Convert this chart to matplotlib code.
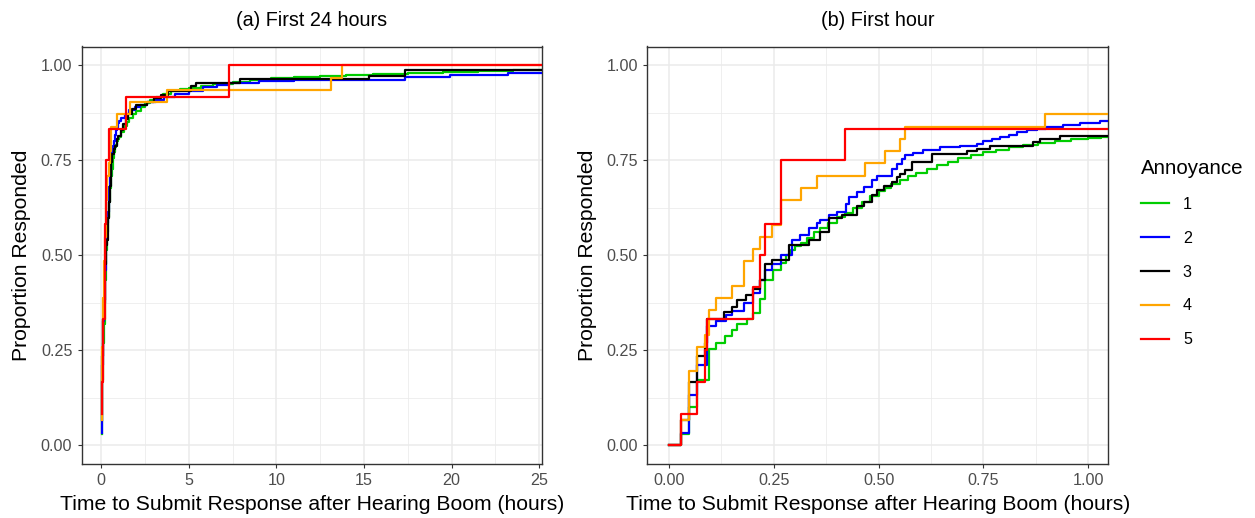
import matplotlib
matplotlib.use('Agg')
import matplotlib.pyplot as plt
from matplotlib.lines import Line2D
from matplotlib.ticker import FixedLocator

plt.rcParams['font.family'] = ['Liberation Sans', 'DejaVu Sans']

# ---------------- data ----------------
annoyance_levels = ['1', '2', '3', '4', '5']
line_colors = ['#00CD00', '#0000FF', '#000000', '#FFA500', '#FF0000']

# Annoyance 1 (green): time (hours) of each step and cumulative proportion after it
t_a1 = [0.028, 0.048, 0.066, 0.095, 0.113, 0.133, 0.151, 0.163, 0.185, 0.200,
        0.218, 0.230, 0.248, 0.266, 0.280, 0.290, 0.300, 0.315, 0.330, 0.345,
        0.360, 0.380, 0.400, 0.420, 0.440, 0.460, 0.480, 0.500, 0.515, 0.530,
        0.550, 0.570, 0.590, 0.615, 0.640, 0.665, 0.690, 0.720, 0.750, 0.780,
        0.810, 0.845, 0.880, 0.920, 0.960, 1.000, 1.030,
        1.15, 1.30, 1.45, 1.60, 1.80, 2.00, 2.25, 2.50, 2.80, 3.10, 3.50, 4.00,
        4.50, 5.00, 5.70, 6.40, 7.50, 8.50, 9.70, 11.0, 12.5, 14.0, 15.5, 17.5,
        19.5, 21.5, 23.5]
p_a1 = [0.029, 0.100, 0.171, 0.253, 0.269, 0.287, 0.303, 0.318, 0.333, 0.348,
        0.386, 0.434, 0.462, 0.480, 0.500, 0.515, 0.525, 0.532, 0.545, 0.560,
        0.572, 0.585, 0.600, 0.612, 0.625, 0.640, 0.655, 0.668, 0.678, 0.688,
        0.698, 0.708, 0.717, 0.727, 0.737, 0.746, 0.755, 0.763, 0.772, 0.778,
        0.784, 0.790, 0.795, 0.800, 0.805, 0.809, 0.812,
        0.825, 0.840, 0.852, 0.862, 0.872, 0.880, 0.890, 0.900, 0.908, 0.916,
        0.924, 0.932, 0.937, 0.941, 0.946, 0.951, 0.956, 0.961, 0.966, 0.970,
        0.973, 0.975, 0.977, 0.980, 0.983, 0.985, 0.987]

# Annoyance 2 (blue)
t_a2 = [0.028, 0.048, 0.066, 0.091, 0.113, 0.135, 0.151, 0.179, 0.200, 0.218,
        0.228, 0.246, 0.266, 0.294, 0.313, 0.333, 0.353, 0.361, 0.381, 0.401,
        0.421, 0.429, 0.448, 0.466, 0.484, 0.496, 0.532, 0.544, 0.556, 0.563,
        0.583, 0.607, 0.647, 0.694, 0.734, 0.750, 0.770, 0.790, 0.810, 0.829,
        0.853, 0.877, 0.900, 0.940, 0.980, 1.028,
        1.15, 1.35, 1.60, 1.90, 2.20, 2.60, 3.10, 3.60, 4.20, 5.00, 5.80, 6.60,
        7.30, 9.00, 11.0, 14.0, 17.35, 19.9, 23.2]
p_a2 = [0.032, 0.132, 0.212, 0.313, 0.326, 0.342, 0.354, 0.373, 0.400, 0.434,
        0.460, 0.478, 0.500, 0.541, 0.553, 0.572, 0.585, 0.594, 0.605, 0.614,
        0.636, 0.654, 0.667, 0.680, 0.697, 0.710, 0.728, 0.741, 0.754, 0.763,
        0.769, 0.776, 0.785, 0.789, 0.794, 0.800, 0.807, 0.811, 0.818, 0.825,
        0.829, 0.833, 0.838, 0.844, 0.848, 0.854,
        0.862, 0.872, 0.882, 0.890, 0.897, 0.904, 0.910, 0.918, 0.926, 0.934,
        0.942, 0.949, 0.954, 0.958, 0.961, 0.963, 0.969, 0.974, 0.979]

# Annoyance 3 (black)
t_a3 = [0.028, 0.048, 0.066, 0.085, 0.091, 0.131, 0.151, 0.161, 0.183, 0.200,
        0.218, 0.228, 0.246, 0.286, 0.333, 0.361, 0.381, 0.413, 0.448, 0.466,
        0.484, 0.496, 0.512, 0.532, 0.544, 0.552, 0.563, 0.579, 0.627, 0.710,
        0.734, 0.766, 0.869, 0.885, 0.933,
        1.10, 1.25, 1.40, 1.55, 1.75, 2.00, 2.60, 3.00, 3.40, 3.80, 5.10, 5.40,
        7.90, 15.3, 17.35]
p_a3 = [0.066, 0.167, 0.234, 0.268, 0.333, 0.351, 0.364, 0.383, 0.395, 0.410,
        0.434, 0.478, 0.487, 0.526, 0.541, 0.561, 0.597, 0.605, 0.629, 0.640,
        0.658, 0.671, 0.682, 0.693, 0.706, 0.715, 0.725, 0.747, 0.766, 0.775,
        0.781, 0.789, 0.798, 0.805, 0.814,
        0.830, 0.845, 0.860, 0.872, 0.885, 0.897, 0.905, 0.915, 0.923, 0.934,
        0.945, 0.955, 0.964, 0.971, 0.988]

# Annoyance 4 (orange)
t_a4 = [0.028, 0.048, 0.066, 0.085, 0.095, 0.113, 0.151, 0.179, 0.200, 0.218,
        0.246, 0.266, 0.314, 0.352, 0.467, 0.514, 0.552, 0.562, 0.897, 1.66,
        3.77, 13.1, 13.76]
p_a4 = [0.065, 0.194, 0.258, 0.290, 0.355, 0.387, 0.419, 0.484, 0.516, 0.548,
        0.581, 0.645, 0.677, 0.710, 0.742, 0.774, 0.806, 0.839, 0.871, 0.903,
        0.935, 0.968, 1.000]

# Annoyance 5 (red)
t_a5 = [0.028, 0.066, 0.085, 0.091, 0.201, 0.218, 0.228, 0.266, 0.420, 1.41, 7.29]
p_a5 = [0.083, 0.167, 0.250, 0.333, 0.417, 0.500, 0.583, 0.750, 0.833, 0.917, 1.000]

series_t = [t_a1, t_a2, t_a3, t_a4, t_a5]
series_p = [p_a1, p_a2, p_a3, p_a4, p_a5]

panel_titles = ['(a) First 24 hours', '(b) First hour']
x_label = 'Time to Submit Response after Hearing Boom (hours)'
y_label = 'Proportion Responded'
y_ticks = [0.0, 0.25, 0.5, 0.75, 1.0]
y_ticklabels = ['0.00', '0.25', '0.50', '0.75', '1.00']
xL_ticks = [0, 5, 10, 15, 20, 25]
xR_ticks = [0.0, 0.25, 0.5, 0.75, 1.0]
xR_ticklabels = ['0.00', '0.25', '0.50', '0.75', '1.00']

# ---------------- figure ----------------
W, H = 1255, 518
fig = plt.figure(figsize=(W / 100, H / 100), dpi=100)
ax_bottom = (H - 464) / H
ax_h = 417.5 / H
axL = fig.add_axes([81.7 / W, ax_bottom, 460 / W, ax_h])
axR = fig.add_axes([647.3 / W, ax_bottom, 461 / W, ax_h])

LW = 1.6
END_T = 1000.0

for ax, pad_zero in ((axL, False), (axR, True)):
    for t, p, c in zip(series_t, series_p, line_colors):
        tt = list(t) + [END_T]
        pp = list(p) + [p[-1]]
        if pad_zero:
            tt = [0.0] + tt
            pp = [0.0] + pp
        ax.step(tt, pp, where='post', color=c, lw=LW, zorder=3)

def style(ax, xticks, xminor, xlim, xticklabels, title):
    ax.set_xlim(*xlim)
    ax.set_ylim(-0.05, 1.05)
    ax.xaxis.set_major_locator(FixedLocator(xticks))
    ax.xaxis.set_minor_locator(FixedLocator(xminor))
    ax.set_xticklabels(xticklabels)
    ax.yaxis.set_major_locator(FixedLocator(y_ticks))
    ax.yaxis.set_minor_locator(FixedLocator([0.125, 0.375, 0.625, 0.875]))
    ax.set_yticklabels(y_ticklabels)
    ax.grid(which='major', color='#EBEBEB', lw=1.1, zorder=0)
    ax.grid(which='minor', color='#EBEBEB', lw=0.55, zorder=0)
    ax.set_axisbelow(True)
    for s in ax.spines.values():
        s.set_color('#333333')
        s.set_linewidth(1.0)
    ax.tick_params(which='major', length=2.75, width=0.8, color='#333333',
                   labelsize=11.6, labelcolor='#4D4D4D', pad=4)
    ax.tick_params(which='minor', length=0)
    ax.set_xlabel(x_label, fontsize=15.2, color='black', labelpad=5)
    ax.set_ylabel(y_label, fontsize=15.2, color='black', labelpad=7)
    ax.set_title(title, fontsize=14.2, color='black', pad=15)

style(axL, xL_ticks, [2.5, 7.5, 12.5, 17.5, 22.5], (-1.12, 25.15),
      [str(v) for v in xL_ticks], panel_titles[0])
style(axR, xR_ticks, [0.125, 0.375, 0.625, 0.875], (-0.052, 1.048),
      xR_ticklabels, panel_titles[1])

handles = [Line2D([], [], color=c, lw=LW) for c in line_colors]
fig.legend(handles, annoyance_levels, title='Annoyance', loc='upper left',
           bbox_to_anchor=(1141 / W, 1 - 159 / H), frameon=False,
           fontsize=11.6, title_fontsize=14.8, handlelength=1.75,
           handletextpad=0.85, labelspacing=1.17, borderpad=0,
           borderaxespad=0, alignment='left')

fig.savefig('out.png', dpi=100)
